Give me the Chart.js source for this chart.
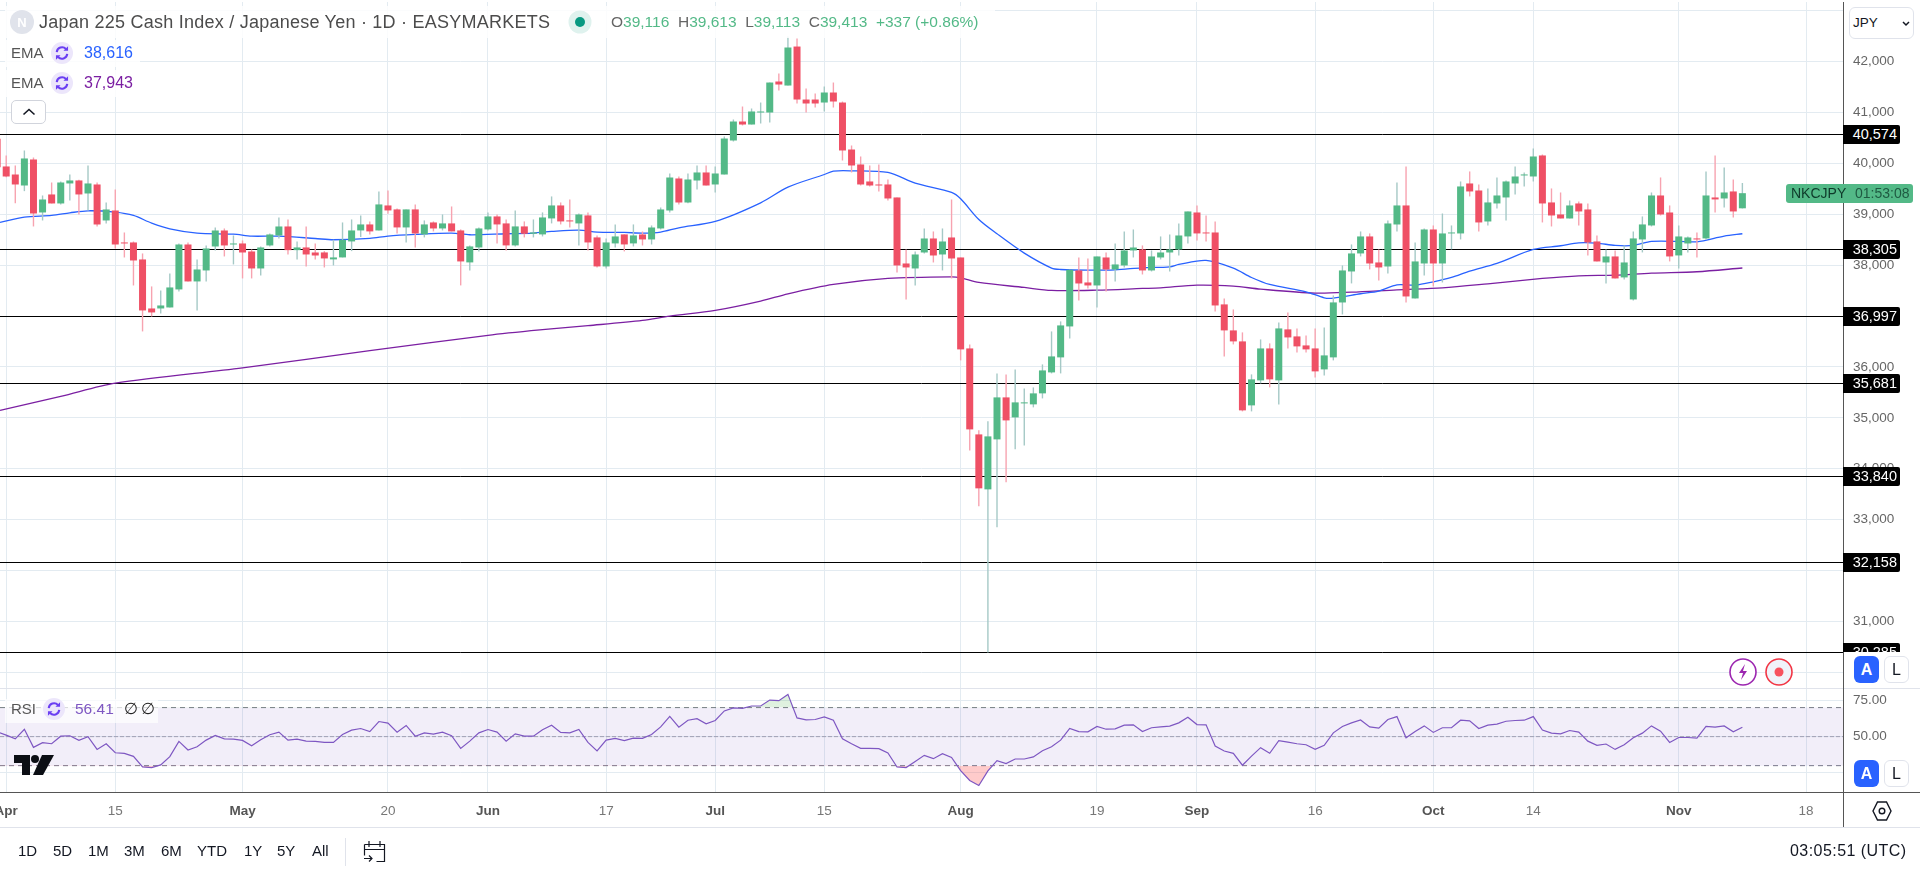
<!DOCTYPE html>
<html>
<head>
<meta charset="utf-8">
<title>Japan 225 Cash Index</title>
<script src="https://cdn.jsdelivr.net/npm/chart.js@4/dist/chart.umd.min.js"></script>
<style>
body { margin: 0; background: #fff; font-family: "Liberation Sans", Arial, sans-serif; }
#page { position: relative; width: 1920px; height: 871px; overflow: hidden; }
#page canvas { position: absolute; left: 0; top: 0; }
.t { position: absolute; white-space: nowrap; height: 20px; line-height: 20px; }
.line { position: absolute; }
.back { position: absolute; background: rgba(255,255,255,0.85); }
.btn { position: absolute; width: 25px; height: 27px; line-height: 27px; text-align: center; border-radius: 6px; font-size: 16px; box-sizing: border-box; }
.auto { background: #2962ff; color: #fff; font-weight: bold; }
.log { background: #fff; border: 1px solid #e0e3eb; color: #131722; line-height: 25px; }
.level { position: absolute; left: 0; width: 57px; height: 19px; line-height: 19px; background: #000; color: #fff; font-size: 14.5px; text-align: right; border-radius: 0 2px 2px 0; box-sizing: border-box; padding-right: 3px; }
.range { top: 841px; font-size: 15px; color: #131722; }
svg { position: absolute; overflow: visible; }
</style>
</head>
<body>
<div id="page">
<canvas id="chart" width="1920" height="871"></canvas>

<svg width="0" height="0"><defs>
<symbol id="sync" viewBox="0 0 24 24">
<circle cx="12" cy="12" r="12" fill="#ece6fb"/>
<path d="M6.3 11a5.8 5.8 0 0 1 10-3.4M17.7 13a5.8 5.8 0 0 1-10 3.4" fill="none" stroke="#6b3ff2" stroke-width="2.3"/>
<path d="M18.6 4.6v5h-5zM5.4 19.4v-5h5z" fill="#6b3ff2"/>
</symbol>
</defs></svg>

<div class="line" style="left:0;top:0;width:1920px;height:2px;background:#fff"></div>
<div class="line" style="left:0;top:688px;width:1920px;height:1px;background:#e0e3eb"></div>
<div class="line" style="left:0;top:792px;width:1920px;height:1px;background:#555"></div>
<div class="line" style="left:0;top:827px;width:1920px;height:1px;background:#e0e3eb"></div>
<div class="line" style="left:1843px;top:2px;width:1px;height:825px;background:#555"></div>

<div class="back" style="left:5px;top:6px;width:990px;height:32px"></div>
<svg style="left:10px;top:10px" width="24" height="24"><circle cx="12" cy="12" r="12" fill="#e0e3eb"/><text x="12" y="17" text-anchor="middle" font-size="13" font-weight="bold" fill="#fff">N</text></svg>
<div class="t" style="left:39px;top:12px;font-size:18px;letter-spacing:0.24px;color:#4c4c4c">Japan 225 Cash Index / Japanese Yen · 1D · EASYMARKETS</div>
<svg style="left:568px;top:10px" width="24" height="24"><circle cx="12" cy="12" r="11.5" fill="#dff2ee"/><circle cx="12" cy="12" r="5" fill="#089981"/></svg>
<div class="t" style="left:611px;top:12px;font-size:15.5px;color:#53b987"><span style="color:#666">O</span>39,116 &nbsp;<span style="color:#666">H</span>39,613 &nbsp;<span style="color:#666">L</span>39,113 &nbsp;<span style="color:#666">C</span>39,413 &nbsp;+337 (+0.86%)</div>

<div class="back" style="left:5px;top:40px;width:135px;height:27px"></div>
<div class="t" style="left:11px;top:43px;font-size:15px;color:#555">EMA</div>
<svg style="left:51px;top:42px" width="22" height="22"><use href="#sync"/></svg>
<div class="t" style="left:84px;top:43px;font-size:16px;color:#2962ff">38,616</div>
<div class="back" style="left:5px;top:70px;width:135px;height:27px"></div>
<div class="t" style="left:11px;top:73px;font-size:15px;color:#555">EMA</div>
<svg style="left:51px;top:72px" width="22" height="22"><use href="#sync"/></svg>
<div class="t" style="left:84px;top:73px;font-size:16px;color:#7b1fa2">37,943</div>
<div style="position:absolute;left:11px;top:100px;width:35px;height:24px;background:#fff;border:1px solid #d1d4dc;border-radius:5px;box-sizing:border-box"></div>
<svg style="left:22px;top:108px" width="14" height="8"><path d="M1.5 6.5 7 1.5 12.5 6.5" fill="none" stroke="#131722" stroke-width="1.6"/></svg>

<div style="position:absolute;left:1849px;top:7px;width:65px;height:32px;background:#fff;border:1px solid #e0e3eb;border-radius:6px;box-sizing:border-box"></div>
<div class="t" style="left:1853px;top:13px;font-size:13.5px;color:#131722">JPY</div>
<svg style="left:1902px;top:21px" width="8" height="5"><path d="M1 1 4 4 7 1" fill="none" stroke="#131722" stroke-width="1.5"/></svg>

<div id="levelBox" style="position:absolute;left:1843px;top:0;width:77px;height:652px;overflow:hidden"></div>
<div id="tag" style="position:absolute;left:1786px;width:127px;height:19px;line-height:19px;background:#53b987;border-radius:3px;font-size:14px;color:#0e3a2a"><span style="position:absolute;left:5px">NKCJPY</span><span style="position:absolute;left:69px;color:#1f5a42">01:53:08</span></div>

<svg style="left:1729px;top:658px" width="28" height="28"><circle cx="14" cy="14" r="13" fill="#fff" stroke="#9c27b0" stroke-width="1.6"/><path d="M16 6 10 15h4l-2 7 6-9h-4z" fill="#9c27b0"/></svg>
<svg style="left:1765px;top:658px" width="28" height="28"><circle cx="14" cy="14" r="13" fill="#f0f3fa" stroke="#f23645" stroke-width="1.6"/><circle cx="14" cy="14" r="4.5" fill="#f7525f"/></svg>
<div class="btn auto" style="left:1854px;top:656px">A</div>
<div class="btn log" style="left:1884px;top:656px">L</div>
<div class="btn auto" style="left:1854px;top:760px">A</div>
<div class="btn log" style="left:1884px;top:760px">L</div>

<div class="back" style="left:5px;top:699px;width:153px;height:24px;background:rgba(255,255,255,0.7)"></div>
<div class="t" style="left:11px;top:699px;font-size:15px;color:#555">RSI</div>
<svg style="left:43px;top:698px" width="22" height="22"><use href="#sync"/></svg>
<div class="t" style="left:75px;top:699px;font-size:15.5px;color:#7e57c2">56.41</div>
<div class="t" style="left:124px;top:699px;font-size:15.5px;color:#222">∅</div>
<div class="t" style="left:141px;top:699px;font-size:15.5px;color:#222">∅</div>

<svg style="left:14px;top:755px" width="40" height="20"><path d="M0 0h16v20H8V8H0z" fill="#0b0e14"/><circle cx="21" cy="4" r="4" fill="#0b0e14"/><path d="M40 0 29 20H19L28 0z" fill="#0b0e14"/></svg>

<svg style="left:1872px;top:800px" width="20" height="22"><path d="M5.5 2h9l4.5 9-4.5 9h-9L1 11z" fill="none" stroke="#131722" stroke-width="1.4"/><circle cx="10" cy="11" r="2.8" fill="none" stroke="#131722" stroke-width="1.4"/></svg>

<div class="t range" style="left:18px">1D</div>
<div class="t range" style="left:53px">5D</div>
<div class="t range" style="left:88px">1M</div>
<div class="t range" style="left:124px">3M</div>
<div class="t range" style="left:161px">6M</div>
<div class="t range" style="left:197px">YTD</div>
<div class="t range" style="left:244px">1Y</div>
<div class="t range" style="left:277px">5Y</div>
<div class="t range" style="left:312px">All</div>
<div class="line" style="left:345px;top:838px;width:1px;height:28px;background:#e0e3eb"></div>
<svg style="left:363px;top:840px" width="24" height="23"><path d="M1.5 4.5h20v17h-8M1.5 4.5v11M1.5 9.5h20M6 1v6M17 1v6M1 18.5h8M6 15.5l3 3-3 3" fill="none" stroke="#131722" stroke-width="1.2"/></svg>
<div class="t" style="left:1790px;top:841px;font-size:16px;letter-spacing:0.45px;color:#131722">03:05:51 (UTC)</div>
</div>

<script>
// candles, first one sits just left of the visible area
const firstIndex = -1;
const open = [
40481,39938,39780,39564,40075,39034,39388,39211,39604,39663,39407,39584,38877,39073,38445,38445,38111,37148,37148,37168,
37522,38405,37679,37895,38366,38680,38405,38425,38268,37934,38386,38582,38759,38294,38347,38248,38249,38112,38151,38465,
38681,38799,38681,39172,39094,38740,39094,38603,38838,38720,38819,38681,38053,38347,38701,38956,38819,38387,38760,38616,
38603,38917,39172,38878,38819,38976,38544,37974,38426,38603,38426,38602,38504,38720,39073,39702,39230,39662,39820,39584,
39780,40448,40821,40762,40998,40998,41607,41528,42294,41253,41253,41194,41391,41194,40271,39977,39643,39584,39584,39329,
38032,37934,38248,38523,38209,38543,38150,36363,34674,33594,34576,35401,35008,35283,35264,35480,35892,36187,36795,37895,
37659,37600,38150,37914,37993,38288,38307,37895,38150,38248,38307,38563,39034,38641,38641,37228,36717,36501,35244,35735,
36363,35735,36737,36599,36422,36363,35951,36187,37266,37875,38229,38563,38052,37973,38798,39172,37345,38032,38700,38032,
38622,38622,39604,39466,38857,39211,39329,39604,39761,39741,40154,39231,38995,38916,39211,39093,38465,38052,38170,37758,
37325,38504,38779,39368,39034,38190,38425,38524,38524,39329,39309,39447,39116];
const high = [
40560,40154,39957,40252,40114,39368,39623,39643,39780,39676,39957,39623,39230,39486,38641,38464,38229,37581,37502,37836,
38425,38445,38111,38386,38739,38720,38582,38484,38307,38366,38622,38936,38897,38464,38759,38425,38275,38498,38838,38897,
38976,38858,39447,39467,39113,39094,39192,38878,38858,38995,39152,38701,38387,38740,39035,38995,38897,39074,38858,38897,
39035,39349,39231,39290,39015,39035,38583,38524,38799,38603,38799,38661,38779,39132,39800,39741,39800,39957,39957,39937,
40527,40861,41116,41077,41194,41587,41764,42491,42451,41469,41371,41509,41587,41214,40350,40134,39957,39977,39682,39329,
38307,38268,38720,38661,38720,39289,38150,36442,34753,34930,35872,35853,35951,35578,35597,36049,36697,36894,37908,38150,
38131,38170,38248,38425,38661,38700,38386,38288,38563,38602,38818,39054,39172,38975,38857,37345,37129,36678,35853,36540,
36462,36874,37070,36756,36619,36756,36776,37404,37993,38406,38661,38622,38307,38877,39623,39938,38445,38720,38779,39014,
38779,39643,39840,39584,39506,39722,39663,39938,39820,40291,40173,39506,39427,39270,39250,39211,38583,38308,38288,38386,
38661,38956,39427,39722,39172,38779,38563,38641,39840,40154,39918,39682,39613];
const low = [
39850,39728,39217,39453,38759,38877,39211,39191,39270,38995,39073,38759,38818,38327,38150,37600,36697,36991,37050,37168,
37482,37679,37109,37679,38288,38170,38013,37738,37738,37797,38366,38523,38209,38111,37973,38111,37954,37994,38151,38275,
38550,38603,38681,39008,38622,38445,38347,38544,38662,38681,38662,37601,37895,38269,38681,38426,38288,38367,38544,38544,
38563,38819,38799,38740,38387,38288,37954,37935,38347,38269,38367,38386,38405,38700,39034,39191,39217,39486,39564,39427,
39780,40428,40743,40762,40782,40802,41430,41528,41175,40998,41096,41018,41096,40055,39820,39564,39545,39446,39270,37855,
37325,37600,38229,38052,37895,37738,36128,34360,33260,30390,32848,33732,34380,34458,35205,35381,35872,35872,36560,37306,
37541,37168,37482,37679,37954,38150,37816,37875,38111,37875,38190,38425,38484,38464,37090,36206,36442,35126,35126,35676,
35597,35263,36363,36285,36285,35794,35833,36128,37031,37640,38170,37915,37698,37836,38661,37266,37345,37797,37581,37659,
38308,38504,39349,38661,38779,39113,38877,39388,39545,39643,38838,38759,38916,38916,38779,38190,38072,37640,37738,37718,
37306,38249,38759,38975,38072,37934,38249,38150,38504,39034,39133,38936,39113];
const close = [
39924,39741,39584,40095,39014,39289,39211,39623,39663,39388,39604,38798,39093,38405,38425,38091,37109,37070,37207,37561,
38405,37679,37914,38327,38680,38386,38425,38248,37934,38347,38602,38759,38294,38347,38209,38189,38131,38151,38498,38681,
38799,38662,39192,39074,38740,39094,38622,38799,38720,38819,38662,38072,38367,38720,38956,38799,38387,38760,38616,38642,
38936,39172,38858,38858,38995,38445,37974,38445,38563,38406,38583,38504,38739,39093,39721,39230,39682,39820,39564,39800,
40487,40821,40762,41018,41018,41587,41548,42275,41253,41175,41175,41391,41214,40252,39957,39584,39564,39564,39309,37993,
37954,38209,38523,38189,38464,38130,36344,34772,33614,34635,35401,34949,35303,35303,35480,35931,36206,36815,37908,37639,
37600,38170,37914,38013,38288,38346,37895,38170,38248,38307,38582,39054,38622,38622,37207,36717,36501,35146,35755,36363,
35755,36756,36579,36403,36344,35912,36226,37267,37895,38229,38563,38032,37954,38818,39172,37384,38072,38700,38032,38622,
38641,39545,39447,38838,39231,39368,39643,39741,39781,40134,39211,38975,38916,39172,39054,38445,38072,38170,37738,38052,
38524,38799,39368,38995,38170,38563,38543,38504,39368,39290,39427,39054,39413];

const emaFastIndex = [-0.68,2,5,7,9,12,14,16,18,21,25,27,30,34,36,40,42,45,49,51,55,58,60,63,65,68,70,72,74,78,83,86,90,91,93,97,100,104,105,107,109,112,115,116,119,122,125,128,129,132,135,137,139,143,145,146,149,151,153,155,157,159,161,164,168,171,173,175,177,179,181,184,186,189,191];
const emaFast = [38838,38942,38975,39027,39067,39041,38975,38825,38713,38628,38608,38569,38569,38523,38498,38524,38570,38603,38629,38596,38616,38629,38661,38688,38648,38642,38628,38648,38733,38857,39224,39532,39780,39846,39852,39820,39610,39427,39302,38896,38615,38235,37941,37914,37901,37908,37947,37967,38013,38091,37941,37757,37620,37476,37358,37352,37437,37489,37613,37607,37672,37758,37882,38033,38308,38380,38438,38432,38386,38386,38465,38465,38458,38569,38616];
const emaSlowIndex = [-0.68,6,12,26,40,53,59,64,70,73,78,83,86,91,97,104,105,107,112,115,120,125,127,131,135,138,144,148,153,158,163,169,173,177,181,186,191];
const emaSlow = [35146,35420,35681,35982,36320,36620,36731,36810,36913,36998,37109,37292,37436,37620,37738,37770,37751,37659,37561,37502,37508,37541,37554,37607,37587,37528,37450,37469,37515,37554,37633,37738,37790,37803,37843,37869,37943];

// RSI, same candles
const rsi = [
53.3,51.0,48.5,55.1,42.6,45.8,45.1,50.3,50.6,47.4,49.9,41.2,45.1,38.9,38.5,36.4,29.1,28.7,30.5,36.2,
46.7,40.8,43.0,47.6,50.8,48.5,48.3,47.4,43.7,47.8,51.3,53.1,47.6,48.3,46.9,46.7,46.0,46.0,51.5,54.5,
55.6,53.5,60.4,59.3,53.1,57.7,50.3,52.6,51.7,53.1,50.6,41.9,46.9,52.6,54.9,53.1,46.9,51.9,50.3,50.3,
54.7,57.9,52.9,52.6,54.9,46.0,40.1,47.6,48.8,47.2,49.0,48.8,51.5,56.7,64.0,56.5,61.3,62.4,58.8,61.1,
67.7,69.8,69.5,71.1,71.1,75.2,74.8,79.1,62.9,61.5,61.8,63.6,61.3,48.5,45.1,41.9,41.9,41.7,38.7,29.1,
28.7,32.8,37.1,34.8,38.2,35.7,26.6,19.8,16.3,26.4,33.5,31.4,34.6,34.6,36.0,40.3,43.0,47.6,55.6,53.5,
53.3,57.0,55.1,55.4,57.9,58.1,53.5,56.1,56.7,57.2,59.5,63.4,58.3,58.1,43.5,40.1,38.5,30.3,36.6,42.4,
38.5,47.2,46.2,45.1,44.4,41.2,44.0,52.6,57.0,59.5,61.5,56.7,55.8,61.8,63.8,49.2,53.5,57.4,52.9,56.1,
56.1,61.3,60.9,55.6,57.9,58.6,60.6,61.1,61.3,63.8,54.5,52.4,51.9,54.2,53.1,46.9,44.0,44.9,41.2,44.4,
49.2,52.4,57.4,53.8,46.0,49.4,49.4,49.0,57.0,56.5,57.4,53.3,56.41];

// support and resistance levels; the last line sits above its own label value in the picture
const levelValues = [40574, 38305, 36997, 35681, 33840, 32158, 30395];
const levelLabels = ['40,574', '38,305', '36,997', '35,681', '33,840', '32,158', '30,285'];

const priceTicks = [30000,31000,32000,33000,34000,35000,36000,37000,38000,39000,40000,41000,42000,43000];
const priceHidden = [30000, 32000, 37000, 43000];
const rsiTicks = [25, 50, 75];
const rsiTickLabels = ['', '50.00', '75.00'];
const rsiBands = [70, 50, 30];

const dateTicks = [0,12,26,42,53,66,78,90,105,120,131,144,157,168,184,198];
const dateLabels = ['Apr','15','May','20','Jun','17','Jul','15','Aug','19','Sep','16','Oct','14','Nov','18'];
const monthLabels = ['Apr','May','Jun','Jul','Aug','Sep','Oct','Nov'];

const xMin = -0.682, xMax = 202.07;
const upColor = '#53b987', downColor = '#ef5065';
const upWick = '#a5c9c6', downWick = '#f7a3b0';

const candleX = open.map((v, i) => i + firstIndex);
const isUp = open.map((v, i) => close[i] >= v);

const levelPlugin = {
    id: 'levels',
    beforeDatasetsDraw(chart) {
        const ctx = chart.ctx;
        const y = chart.scales.y;
        ctx.save();
        ctx.strokeStyle = '#000';
        ctx.lineWidth = 1;
        levelValues.forEach(v => {
            const py = Math.floor(y.getPixelForValue(v)) + 0.5;
            ctx.beginPath();
            ctx.moveTo(chart.chartArea.left, py);
            ctx.lineTo(chart.chartArea.right, py);
            ctx.stroke();
        });
        ctx.restore();
    }
};

function lineSet(xs, ys, color, width, axis, order) {
    return {
        type: 'line',
        data: xs.map((x, i) => ({ x: x, y: ys[i] })),
        yAxisID: axis,
        borderColor: color,
        borderWidth: width,
        pointRadius: 0,
        tension: 0,
        order: order
    };
}

// no half-label margins around the panes
function noPadding(scale) {
    scale.paddingTop = 0;
    scale.paddingBottom = 0;
    scale.paddingLeft = 0;
    scale.paddingRight = 0;
}

const datasets = [];

// wicks and bodies are floating bars
datasets.push({
    type: 'bar',
    data: candleX.map((x, i) => ({ x: x, y: [low[i], high[i]] })),
    yAxisID: 'y',
    backgroundColor: isUp.map(u => u ? upWick : downWick),
    barThickness: 1.4,
    grouped: false,
    inflateAmount: 0,
    order: 1
});
datasets.push({
    type: 'bar',
    data: candleX.map((x, i) => ({ x: x, y: [open[i], close[i]] })),
    yAxisID: 'y',
    backgroundColor: isUp.map(u => u ? upColor : downColor),
    barThickness: 7,
    grouped: false,
    inflateAmount: 0,
    order: 0
});

const fast = lineSet(emaFastIndex, emaFast, '#2962ff', 1.3, 'y', 2);
fast.tension = 0.3;
datasets.push(fast);
const slow = lineSet(emaSlowIndex, emaSlow, '#7b1fa2', 1.3, 'y', 3);
slow.tension = 0.3;
datasets.push(slow);

// RSI band
rsiBands.forEach((level, i) => {
    const band = lineSet([xMin, xMax], [level, level], i == 1 ? 'rgba(120,123,134,0.6)' : '#787b86', 1, 'yRsi', 6);
    band.borderDash = i == 1 ? [4, 2] : [5, 4];
    if (i == 0) {
        band.fill = '+2';
        band.backgroundColor = 'rgba(126,87,194,0.1)';
    }
    datasets.push(band);
});

const rsiLine = lineSet(candleX, rsi, '#7e57c2', 1.2, 'yRsi', 4);
rsiLine.fill = { target: { value: 70 }, above: 'rgba(76,175,80,0.18)', below: 'rgba(0,0,0,0)' };
datasets.push(rsiLine);
const rsiUnder = lineSet(candleX, rsi, 'rgba(0,0,0,0)', 0, 'yRsi', 5);
rsiUnder.fill = { target: { value: 30 }, above: 'rgba(0,0,0,0)', below: 'rgba(255,82,82,0.3)' };
datasets.push(rsiUnder);

const chart = new Chart(document.getElementById('chart').getContext('2d'), {
    data: { datasets: datasets },
    plugins: [levelPlugin],
    options: {
        responsive: false,
        animation: false,
        events: [],
        layout: { padding: 0 },
        plugins: { legend: { display: false }, tooltip: { enabled: false } },
        scales: {
            x: {
                type: 'linear',
                offset: false,
                min: xMin,
                max: xMax,
                afterFit(scale) { scale.height = 79; noPadding(scale); },
                afterBuildTicks(scale) { scale.ticks = dateTicks.map(v => ({ value: v })); },
                grid: { color: '#e3ebf1', drawTicks: false, offset: false },
                border: { display: false },
                ticks: {
                    autoSkip: false,
                    maxRotation: 0,
                    padding: 11,
                    color: ctx => monthLabels.includes(dateLabels[ctx.index]) ? '#555' : '#777',
                    font: ctx => ({ family: '"Liberation Sans"', size: 13.5, weight: monthLabels.includes(dateLabels[ctx.index]) ? 'bold' : 'normal' }),
                    callback: value => dateLabels[dateTicks.indexOf(value)]
                }
            },
            y: {
                position: 'right',
                stack: 'panes',
                stackWeight: 688,
                min: 29691.6,
                max: 43208.3,
                afterFit(scale) { scale.width = 77; noPadding(scale); },
                afterBuildTicks(scale) { scale.ticks = priceTicks.map(v => ({ value: v })); },
                grid: { color: '#e3ebf1', drawTicks: false },
                border: { display: false },
                ticks: {
                    autoSkip: false,
                    padding: 10,
                    color: '#666',
                    font: { family: '"Liberation Sans"', size: 13.5 },
                    callback: value => priceHidden.includes(value) ? '' : value.toLocaleString('en-US')
                }
            },
            yRsi: {
                position: 'right',
                stack: 'panes',
                stackWeight: 104,
                min: 11.85,
                max: 83.5,
                afterFit(scale) { scale.width = 77; noPadding(scale); },
                afterBuildTicks(scale) { scale.ticks = rsiTicks.map(v => ({ value: v })); },
                grid: { color: '#e3ebf1', drawTicks: false },
                border: { display: false },
                ticks: {
                    autoSkip: false,
                    padding: 10,
                    color: '#666',
                    font: { family: '"Liberation Sans"', size: 13.5 },
                    callback: value => rsiTickLabels[rsiTicks.indexOf(value)]
                }
            }
        }
    }
});

// price tags follow the scale
const levelBox = document.getElementById('levelBox');
levelValues.forEach((v, i) => {
    const row = Math.floor(chart.scales.y.getPixelForValue(v));
    const tag = document.createElement('div');
    tag.className = 'level';
    tag.style.top = (row - 9) + 'px';
    tag.textContent = levelLabels[i];
    levelBox.appendChild(tag);
});
document.getElementById('tag').style.top = (chart.scales.y.getPixelForValue(close[close.length - 1]) - 9.5) + 'px';
</script>
</body>
</html>
